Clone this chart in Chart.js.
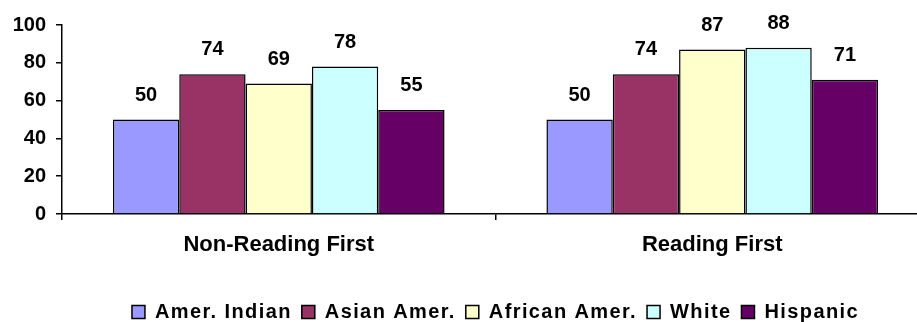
<!DOCTYPE html>
<html>
<head>
<meta charset="utf-8">
<script src="https://cdn.jsdelivr.net/npm/chart.js@4/dist/chart.umd.min.js"></script>
<style>
  html, body { margin: 0; padding: 0; background: #fff; width: 917px; height: 322px; overflow: hidden; }
  canvas { display: block; }
</style>
</head>
<body>
<canvas id="myChart" width="929" height="340"></canvas>
<script>
// categories et séries
const categories = ["Non-Reading First", "Reading First"];
const groupes = ["Amer. Indian", "Asian Amer.", "African Amer.", "White", "Hispanic"];
const amerIndian = [50, 50];
const asianAmer = [74, 74];
const africanAmer = [69, 87];
const white = [78, 88];
const hispanic = [55, 71];
const yTicks = [0, 20, 40, 60, 80, 100];

const couleurs = ["#9999FF", "#993366", "#FFFFCC", "#CCFFFF", "#660066"];
const valeurs = [amerIndian, asianAmer, africanAmer, white, hispanic];

const police = '"Liberation Sans", Arial, sans-serif';

// les étiquettes au dessus des barres
const barLabels = {
    id: 'barLabels',
    afterDatasetsDraw(chart) {
        const ctx = chart.ctx;
        ctx.save();
        ctx.font = 'bold 20px ' + police;
        ctx.fillStyle = '#000';
        ctx.textAlign = 'center';
        ctx.textBaseline = 'alphabetic';
        chart.data.datasets.forEach((ds, i) => {
            chart.getDatasetMeta(i).data.forEach((bar, j) => {
                ctx.fillText(ds.data[j], bar.x, bar.y - 19);
            });
        });
        ctx.restore();
    }
};

// la légende a des lettres plus espacées
const espaceLegende = {
    id: 'espaceLegende',
    afterInit(chart) {
        const leg = chart.legend;
        const fitOrig = leg.fit.bind(leg);
        const drawOrig = leg.draw.bind(leg);
        leg.fit = function () {
            leg.ctx.save();
            leg.ctx.letterSpacing = '1.4px';
            fitOrig();
            leg.ctx.restore();
        };
        leg.draw = function () {
            leg.ctx.save();
            leg.ctx.letterSpacing = '1.4px';
            drawOrig();
            leg.ctx.restore();
        };
    }
};

const ctx = document.getElementById('myChart').getContext('2d');
const myChart = new Chart(ctx, {
    type: 'bar',
    data: {
        labels: categories,
        datasets: groupes.map((g, i) => ({
            label: g,
            data: valeurs[i],
            backgroundColor: couleurs[i],
            borderColor: '#000',
            borderWidth: 1.5,
            categoryPercentage: 0.765,
            barPercentage: 1
        }))
    },
    options: {
        responsive: false,
        animation: false,
        layout: { padding: { top: 25, bottom: 8, left: 0, right: 0 } },
        scales: {
            x: {
                grid: { display: true, drawOnChartArea: false, color: '#000', lineWidth: 1.5, tickLength: 6, offset: true },
                border: { color: '#000', width: 1.5 },
                ticks: { color: '#000', padding: 12, font: { family: police, size: 22, weight: 'bold' } },
                afterFit(scale) { scale.height = 78; }
            },
            y: {
                min: 0,
                max: 100,
                afterBuildTicks(scale) { scale.ticks = yTicks.map(v => ({ value: v })); },
                grid: { display: true, drawOnChartArea: false, color: '#000', lineWidth: 1.5, tickLength: 6 },
                border: { color: '#000', width: 1.5 },
                ticks: { color: '#000', padding: 10, font: { family: police, size: 20, weight: 'bold' } },
                afterFit(scale) { scale.width = 62; }
            }
        },
        plugins: {
            legend: {
                position: 'bottom',
                fullSize: false,
                labels: {
                    color: '#000',
                    boxWidth: 13,
                    boxHeight: 13,
                    padding: 10,
                    font: { family: police, size: 20, weight: 'bold' }
                }
            },
            tooltip: { enabled: false }
        }
    },
    plugins: [espaceLegende, barLabels]
});
</script>
</body>
</html>
